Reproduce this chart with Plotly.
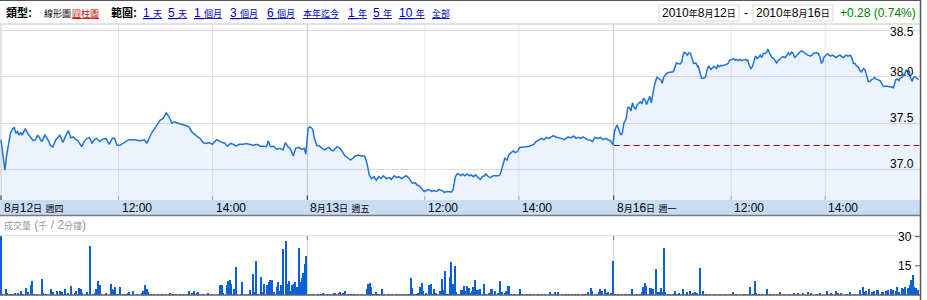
import re
import plotly.graph_objects as go

# ------------------------------------------------------------------ data
DAY_LEN = 391                      # minute slots per trading day on the axis
day_labels = ["8月12日 週四", "8月13日 週五", "8月16日 週一"]
hour_labels = ["12:00", "14:00"]
hour_minutes = [150, 270]          # minutes after the 9:30 open

price_ticks = [37.0, 37.5, 38.0, 38.5]
price_tick_text = ["37.0", "37.5", "38.0", "38.5"]
vol_ticks = [15, 30]
vol_tick_text = ["15", "30"]
prev_close = 37.258

# day 1 (8/12) minutes after open / price
d1_m = [0,2,5,7,9,12,15,17,19,21,23,25,27,31,34,37,41,44,47,52,56,60,63,66,70,75,79,83,86,89,92,96,98,103,106,110,113,116,119,122,126,130,134,138,142,145,148,152,158,163,170,177,183,186,192,198,203,207,211,215,218,221,225,229,234,240,243,248,251,254,258,262,265,270,275,280,286,289,293,297,300,304,309,313,318,322,327,331,336,339,341,344,348,352,356,360,363,366,369,373,376,380,384,387,389]
d1_p = [37.32,37.20,36.99,37.14,37.245,37.39,37.44,37.45,37.39,37.41,37.37,37.40,37.37,37.44,37.39,37.35,37.31,37.32,37.37,37.30,37.37,37.32,37.26,37.24,37.32,37.37,37.29,37.37,37.42,37.34,37.35,37.32,37.31,37.245,37.30,37.335,37.345,37.28,37.32,37.335,37.30,37.325,37.335,37.27,37.335,37.335,37.26,37.26,37.29,37.32,37.32,37.31,37.32,37.28,37.39,37.46,37.53,37.55,37.61,37.56,37.50,37.515,37.50,37.49,37.48,37.46,37.41,37.37,37.35,37.335,37.29,37.28,37.29,37.27,37.32,37.30,37.28,37.25,37.28,37.27,37.25,37.27,37.27,37.28,37.27,37.26,37.27,37.25,37.25,37.245,37.31,37.245,37.25,37.215,37.227,37.21,37.29,37.245,37.227,37.145,37.227,37.237,37.215,37.227,37.166]

# day 2 (8/13)
d2_m = [1,3,5,7,9,12,16,19,22,25,28,30,33,36,38,42,45,48,51,55,58,61,65,69,73,75,77,79,82,85,88,91,94,97,101,105,107,111,114,117,120,123,126,129,131,134,138,140,143,146,149,152,155,159,162,165,168,172,175,178,181,184,186,189,191,193,196,198,201,204,207,209,212,215,218,221,223,226,228,231,234,237,241,244,246,249,252,255,257,260,263,265,268,271,275,279,283,286,289,292,296,299,302,305,308,312,314,317,320,324,328,330,333,336,340,343,346,349,352,355,358,361,364,367,371,374,377,381,384,387,390]
d2_p = [37.444,37.46,37.45,37.43,37.335,37.26,37.25,37.227,37.21,37.227,37.237,37.21,37.20,37.227,37.245,37.227,37.19,37.145,37.13,37.10,37.12,37.145,37.155,37.145,37.145,37.10,37.03,36.94,36.90,36.92,36.88,36.92,36.90,36.93,36.90,36.91,36.89,36.93,36.91,36.92,36.90,36.92,36.93,36.91,36.88,36.85,36.855,36.83,36.82,36.785,36.76,36.77,36.78,36.76,36.77,36.76,36.78,36.77,36.75,36.76,36.76,36.755,36.78,36.92,36.95,36.952,36.93,36.95,36.93,36.95,36.93,36.94,36.92,36.94,36.91,36.89,36.92,36.93,36.95,36.92,36.91,36.93,36.93,36.93,36.94,37.03,37.12,37.10,37.155,37.18,37.20,37.18,37.19,37.237,37.245,37.245,37.25,37.26,37.27,37.30,37.32,37.335,37.32,37.345,37.335,37.36,37.365,37.35,37.345,37.335,37.32,37.335,37.35,37.34,37.36,37.335,37.345,37.335,37.35,37.335,37.32,37.317,37.30,37.345,37.335,37.345,37.32,37.335,37.317,37.31,37.263]

# day 3 (8/16)
d3_m = [1,4,6,9,11,13,16,18,20,22,24,26,28,30,34,36,38,40,42,44,46,48,50,52,55,57,60,62,64,66,68,71,74,76,78,80,82,85,87,88,90,92,94,96,98,100,102,105,107,108,110,112,114,117,119,121,124,126,128,131,133,135,137,139,142,144,146,148,151,153,155,157,159,161,163,165,168,170,171,173,175,177,179,181,183,185,187,189,191,193,195,197,199,202,204,206,208,210,212,214,216,219,221,223,225,227,229,231,233,236,238,240,243,245,248,251,253,255,257,259,261,263,265,267,268,271,273,275,277,279,282,284,286,289,291,293,295,297,299,302,304,306,308,310,312,314,316,319,321,323,325,327,329,331,333,335,337,340,342,344,346,348,350,353,355,357,359,360,362,364,365,368,370,372,373,376,377,379,381,382,384,386,388,389]
d3_p = [37.41,37.48,37.444,37.37,37.39,37.50,37.55,37.67,37.67,37.63,37.72,37.67,37.65,37.70,37.73,37.71,37.77,37.75,37.70,37.75,37.79,37.72,37.84,37.91,37.995,37.985,37.97,37.93,38.00,38.02,38.04,38.05,38.05,38.055,38.10,38.15,38.145,38.14,38.165,38.22,38.265,38.255,38.235,38.26,38.255,38.19,38.145,38.15,38.11,38.115,38.04,37.985,37.985,37.995,38.07,38.12,38.08,38.10,38.115,38.09,38.125,38.11,38.125,38.12,38.125,38.135,38.145,38.18,38.19,38.20,38.18,38.19,38.175,38.19,38.175,38.18,38.19,38.175,38.18,38.125,38.09,38.11,38.165,38.225,38.20,38.21,38.235,38.21,38.255,38.25,38.26,38.30,38.255,38.21,38.20,38.175,38.15,38.18,38.19,38.21,38.22,38.21,38.235,38.26,38.235,38.27,38.255,38.21,38.225,38.255,38.27,38.28,38.26,38.255,38.235,38.225,38.235,38.255,38.26,38.26,38.255,38.22,38.15,38.165,38.21,38.235,38.25,38.235,38.225,38.235,38.22,38.21,38.225,38.235,38.22,38.21,38.225,38.235,38.225,38.235,38.20,38.145,38.145,38.115,38.11,38.07,38.055,38.09,38.07,38.00,37.95,37.95,37.97,37.975,37.995,37.975,37.97,37.96,37.93,37.90,37.895,37.90,37.895,37.895,37.89,37.88,37.93,37.97,37.975,37.96,37.985,37.995,38.02,38.04,38.07,38.055,38.07,37.985,37.95,37.985,38.00,37.995,37.975,37.97]

# volume (thousands per 2 minutes)
v1_m = [0,2,6,8,12,14,18,22,26,28,32,34,38,40,42,46,52,54,58,64,66,72,76,78,82,86,90,94,96,100,102,104,110,114,118,120,122,124,126,128,134,140,142,144,146,148,152,156,160,162,164,168,174,180,182,184,186,188,192,196,200,206,210,214,216,220,224,228,232,238,240,244,246,250,252,258,264,270,278,280,282,284,288,290,292,294,296,298,300,302,306,308,312,316,318,322,324,326,328,332,334,336,340,342,344,346,348,352,354,356,358,360,364,366,368,370,372,374,376,378,380,382,384,386,388,390]
v1 = [31,0.9,3.2,1.2,0.5,0.5,1.2,1.4,2.1,0.4,3.9,1.8,5.3,7.6,0.9,0.4,8.3,1.2,0.5,3.5,1.8,2.3,2.3,1.8,3.5,1.4,4.8,1.4,2.3,3.9,3.0,1.4,1.8,25.3,0.4,1.2,3.2,7.4,5.3,0.9,1.4,5.8,3.5,2.7,4.1,0.9,4.1,0.5,0.9,1.2,1.8,2.1,0.5,1.2,2.3,5.5,3.2,1.8,0.5,0.9,0.9,0.9,0.9,0.9,1.4,0.5,0.9,0.9,0.5,0.9,2.1,1.4,2.3,1.2,1.8,0.9,1.2,0.5,0.9,5.5,5.5,1.4,5.3,7.6,8.0,5.8,0.9,3.0,14.8,0.9,0.2,6.7,0.9,0.9,2.7,10.8,1.8,17.7,0.9,9.5,1.8,5.8,5.5,6.7,8.0,8.0,1.8,4.4,6.7,2.1,5.3,23.9,28.1,5.8,7.6,2.1,5.3,5.8,6.7,4.4,24.2,6.7,9.0,11.5,15.9,20.3]
v2_m = [2,8,14,18,20,22,26,30,34,36,40,42,46,48,52,56,60,64,70,76,78,80,82,84,88,90,92,96,98,104,108,114,118,122,126,130,132,134,136,140,142,144,146,148,152,156,158,160,162,164,170,172,174,176,178,180,182,184,186,188,190,194,196,198,200,202,204,206,208,210,212,214,216,218,220,224,226,228,232,234,236,240,244,246,248,252,254,256,258,260,264,270,272,274,280,284,288,294,298,304,310,312,316,320,326,330,334,338,342,346,352,354,358,362,364,368,372,374,376,380,382,384,388,390]
v2 = [0.3,0.3,0.3,0.4,1.4,0.9,0.9,0.9,1.2,1.2,1.2,1.8,1.4,2.1,0.9,0.9,0.9,0.9,0.9,3.5,5.8,6.2,4.1,0.9,1.8,0.4,0.9,3.2,0.4,0.4,0.9,0.4,0.9,0.9,0.9,0.9,8.7,3.9,0.9,0.4,1.2,4.1,6.5,2.3,1.2,5.3,5.7,0.9,3.5,1.4,2.3,8.5,2.7,12.4,0.9,0.9,9.4,17.1,5.8,15.0,1.8,0.2,2.7,2.7,5.0,2.3,5.0,3.9,1.2,2.3,4.1,8.0,2.7,2.7,3.2,0.9,5.8,0.2,1.2,3.5,3.0,2.1,1.4,7.4,1.8,1.4,2.1,4.8,4.6,0.9,0.9,0.9,3.0,0.9,0.5,0.5,0.5,0.9,0.5,0.9,1.8,0.2,1.8,1.8,0.9,0.5,0.9,0.9,0.5,0.4,0.4,0.5,1.8,3.9,2.3,0.9,1.8,3.0,2.3,3.5,1.4,1.8,1.4,17.7]
v3_m = [2,6,10,14,16,20,24,30,34,36,38,40,42,46,48,50,54,56,58,60,62,64,66,70,72,76,78,80,84,88,92,94,98,102,104,106,110,114,118,122,130,136,142,148,152,156,166,170,174,178,180,182,186,190,196,200,204,208,212,218,224,230,236,242,248,252,260,264,272,276,278,284,286,290,298,302,308,314,318,320,322,326,330,332,336,338,342,344,348,350,354,356,360,362,364,368,370,372,376,378,380,382,384,386,388]
v3 = [0.9,0.2,0.2,0.5,0.9,0.9,3.0,0.2,0.9,1.8,4.4,6.5,4.8,3.9,3.9,3.4,13.6,1.8,1.8,3.9,1.8,24.4,1.8,0.9,0.4,0.9,2.3,0.9,1.4,3.0,0.9,1.8,2.3,1.4,1.8,1.4,13.8,2.1,0.9,0.9,0.9,0.5,0.5,0.5,1.8,0.9,0.9,0.5,4.4,0.4,7.6,1.4,0.9,0.9,3.5,0.9,0.9,0.5,1.8,0.9,0.9,1.2,1.4,1.4,1.8,1.4,0.9,1.4,2.3,0.9,1.4,2.3,1.4,1.4,0.9,1.8,0.9,2.7,4.4,1.8,2.3,3.5,1.8,2.1,2.7,2.7,1.8,1.8,2.3,2.7,3.5,2.7,2.1,4.1,1.8,3.9,3.5,4.4,3.9,5.3,8.0,10.6,4.4,3.9,2.7]

header_left = [("類型:", "#000000", False, True), ("線形圖", "#000000", False, False),
               ("圓柱圖", "#cc0000", True, False), ("範圍:", "#000000", False, True),
               ("1 天", "#0000cc", True, False), ("5 天", "#0000cc", True, False),
               ("1 個月", "#0000cc", True, False), ("3 個月", "#0000cc", True, False),
               ("6 個月", "#0000cc", True, False), ("本年迄今", "#0000cc", True, False),
               ("1 年", "#0000cc", True, False), ("5 年", "#0000cc", True, False),
               ("10 年", "#0000cc", True, False), ("全部", "#0000cc", True, False)]
header_left_px = [5, 43, 71, 110, 142, 167, 193, 229, 266, 302, 347, 372, 398, 431]
date_from = "2010年8月12日"
date_to = "2010年8月16日"
change_text = "+0.28 (0.74%)"
vol_title = "成交量 (千 / 2分鐘)"

# ------------------------------------------------------------------ layout helpers
W, H = 927, 300
PPM = 0.7835          # pixels per minute
X0 = 1.0              # pixel of the first open
PLOT_R = 920
FONT = "Liberation Sans, Arial, Noto Sans CJK TC, sans-serif"


def u_px(px):
    return (px - X0) / PPM


def fx(px):
    return px / W


def fy(py):
    return 1 - py / H


def cj(s, size=9):
    return re.sub(r"([\u3000-\u9fff\uff00-\uffef]+)",
                  lambda m: "<span style='font-size:%dpx'>%s</span>" % (size, m.group(1)), s)


def ul(s):
    return "<span style='text-decoration:underline'>%s</span>" % s


xr = [u_px(0), u_px(PLOT_R)]

price_x, price_y = [], []
for d, (mm, pp) in enumerate([(d1_m, d1_p), (d2_m, d2_p), (d3_m, d3_p)]):
    for m, p in zip(mm, pp):
        price_x.append(d * DAY_LEN + m)
        price_y.append(p)

vol_x, vol_y = [], []
for d, (mm, vv) in enumerate([(v1_m, v1), (v2_m, v2), (v3_m, v3)]):
    for m, v in zip(mm, vv):
        vol_x.append(d * DAY_LEN + m)
        vol_y.append(v)

fig = go.Figure()
fig.add_trace(go.Scatter(x=price_x, y=price_y, mode="lines",
                         line=dict(color="#1f74d8", width=1.5),
                         fill="tozeroy", fillcolor="rgba(40,125,230,0.09)",
                         hoverinfo="skip", xaxis="x", yaxis="y"))
fig.add_trace(go.Scatter(x=[2 * DAY_LEN, 2 * DAY_LEN + 390], y=[prev_close, prev_close],
                         mode="lines", line=dict(color="#8b0000", width=1, dash="6px,4px"),
                         hoverinfo="skip", xaxis="x", yaxis="y"))
fig.add_trace(go.Bar(x=vol_x, y=vol_y, width=1.6,
                     marker=dict(color="#0a60d8", line=dict(width=0)),
                     hoverinfo="skip", xaxis="x2", yaxis="y2"))

shapes = []
# price panel top line
shapes.append(dict(type="line", xref="paper", yref="paper", x0=0, x1=fx(PLOT_R),
                   y0=fy(24), y1=fy(24), line=dict(color="#c4c4c4", width=1)))
for d in range(3):
    for hm in hour_minutes:
        u = d * DAY_LEN + hm
        shapes.append(dict(type="line", xref="x", yref="paper", x0=u, x1=u,
                           y0=fy(200), y1=fy(24), line=dict(color="#e6e6e6", width=1), layer="below"))
        shapes.append(dict(type="line", xref="x", yref="paper", x0=u, x1=u,
                           y0=fy(200), y1=fy(196), line=dict(color="#a8a8a8", width=1)))
    u = d * DAY_LEN
    shapes.append(dict(type="line", xref="x", yref="paper", x0=u, x1=u,
                       y0=fy(200), y1=fy(24), line=dict(color="#c6ccc6", width=1), layer="below"))
    shapes.append(dict(type="line", xref="x", yref="paper", x0=u, x1=u,
                       y0=fy(200), y1=fy(195.5), line=dict(color="#333333", width=1)))
    if d > 0:
        shapes.append(dict(type="line", xref="x", yref="paper", x0=u, x1=u,
                           y0=fy(295), y1=fy(235.7), line=dict(color="#ccd3cc", width=1), layer="below"))
        shapes.append(dict(type="line", xref="x", yref="paper", x0=u, x1=u,
                           y0=fy(240), y1=fy(235.7), line=dict(color="#777777", width=1)))
# date band
shapes.append(dict(type="rect", xref="paper", yref="paper", x0=0, x1=fx(PLOT_R),
                   y0=fy(215), y1=fy(200), fillcolor="#c8dcf4", line=dict(width=0), layer="below"))
shapes.append(dict(type="line", xref="paper", yref="paper", x0=0, x1=fx(PLOT_R),
                   y0=fy(215.5), y1=fy(215.5), line=dict(color="#7a7a7a", width=1.5)))
# volume panel frame
shapes.append(dict(type="line", xref="paper", yref="paper", x0=0, x1=fx(PLOT_R),
                   y0=fy(235.7), y1=fy(235.7), line=dict(color="#d6d6f2", width=1)))
shapes.append(dict(type="line", xref="paper", yref="paper", x0=0, x1=fx(PLOT_R),
                   y0=fy(295), y1=fy(295), line=dict(color="#606060", width=1.5)))
for v in vol_ticks:
    shapes.append(dict(type="line", xref="paper", yref="y2", x0=fx(915), x1=fx(PLOT_R),
                       y0=v, y1=v, line=dict(color="#555555", width=1)))
# outer borders
shapes.append(dict(type="line", xref="paper", yref="paper", x0=fx(920.5), x1=fx(920.5),
                   y0=0, y1=1, line=dict(color="#555555", width=1.5)))
shapes.append(dict(type="line", xref="paper", yref="paper", x0=0, x1=fx(921),
                   y0=fy(0.5), y1=fy(0.5), line=dict(color="#555555", width=1)))
# header date boxes
for a, b in [(659, 739), (753, 833)]:
    shapes.append(dict(type="rect", xref="paper", yref="paper", x0=fx(a), x1=fx(b),
                       y0=fy(21), y1=fy(5), fillcolor="#ffffff", line=dict(color="#d8d8d8", width=1)))

ann = []
for (txt, col, und, bold), px in zip(header_left, header_left_px):
    t = cj(txt, 11 if bold else 9)
    if bold:
        t = "<b>%s</b>" % t
    if und:
        t = ul(t)
    ann.append(dict(text=t, xref="paper", yref="paper", x=fx(px), y=fy(13), xanchor="left",
                    yanchor="middle", showarrow=False, borderpad=0,
                    font=dict(family=FONT, size=12, color=col)))
ann.append(dict(text=cj(date_from), xref="paper", yref="paper", x=fx(699), y=fy(13),
                xanchor="center", yanchor="middle", showarrow=False,
                font=dict(family=FONT, size=12, color="#000000")))
ann.append(dict(text="-", xref="paper", yref="paper", x=fx(746), y=fy(13),
                xanchor="center", yanchor="middle", showarrow=False,
                font=dict(family=FONT, size=12, color="#000000")))
ann.append(dict(text=cj(date_to), xref="paper", yref="paper", x=fx(793), y=fy(13),
                xanchor="center", yanchor="middle", showarrow=False,
                font=dict(family=FONT, size=12, color="#000000")))
ann.append(dict(text=change_text, xref="paper", yref="paper", x=fx(839), y=fy(13),
                xanchor="left", yanchor="middle", showarrow=False, borderpad=0,
                font=dict(family=FONT, size=12, color="#008000")))
# price labels (inside the plot, right-aligned, sitting on the grid lines)
for v, t in zip(price_ticks, price_tick_text):
    if v == max(price_ticks):
        ann.append(dict(text=t, xref="paper", yref="paper", x=fx(915), y=fy(23.5),
                        xanchor="right", yanchor="top", showarrow=False, borderpad=0,
                        font=dict(family=FONT, size=12, color="#000000")))
    else:
        ann.append(dict(text=t, xref="paper", yref="y", x=fx(915), y=v, yshift=-3,
                        xanchor="right", yanchor="bottom", showarrow=False, borderpad=0,
                        font=dict(family=FONT, size=12, color="#000000")))
for d in range(3):
    ann.append(dict(text=cj(day_labels[d]), xref="x", yref="paper", x=d * DAY_LEN, y=fy(207.5),
                    xanchor="left", yanchor="middle", xshift=2, showarrow=False, borderpad=0,
                    font=dict(family=FONT, size=12, color="#000000")))
    for lab, hm in zip(hour_labels, hour_minutes):
        ann.append(dict(text=lab, xref="x", yref="paper", x=d * DAY_LEN + hm, y=fy(207.5),
                        xanchor="left", yanchor="middle", xshift=2, showarrow=False, borderpad=0,
                        font=dict(family=FONT, size=12, color="#000000")))
ann.append(dict(text=cj(vol_title), xref="paper", yref="paper", x=fx(3), y=fy(225),
                xanchor="left", yanchor="middle", showarrow=False, borderpad=0,
                font=dict(family=FONT, size=12, color="#999999")))
for v, t in zip(vol_ticks, vol_tick_text):
    ann.append(dict(text=t, xref="paper", yref="y2", x=fx(913), y=v,
                    xanchor="right", yanchor="middle", showarrow=False, borderpad=0,
                    font=dict(family=FONT, size=12, color="#000000")))

fig.update_layout(
    width=W, height=H, margin=dict(l=0, r=0, t=0, b=0),
    paper_bgcolor="#ffffff", plot_bgcolor="rgba(0,0,0,0)",
    showlegend=False, shapes=shapes, annotations=ann, bargap=0,
    xaxis=dict(domain=[0, fx(PLOT_R)], range=xr, anchor="y", showgrid=False, zeroline=False,
               showticklabels=False, ticks="", showline=False, fixedrange=True),
    yaxis=dict(domain=[fy(200), fy(24)], range=[36.668, 38.572], tickvals=price_ticks,
               showticklabels=False, showgrid=True, gridcolor="#dcdce6", gridwidth=1,
               zeroline=False, ticks="", showline=False, fixedrange=True),
    xaxis2=dict(domain=[0, fx(PLOT_R)], range=xr, anchor="y2", showgrid=False, zeroline=False,
                showticklabels=False, ticks="", showline=False, fixedrange=True),
    yaxis2=dict(domain=[fy(295), fy(235.7)], range=[0, 30.5], showgrid=False,
                showticklabels=False, zeroline=False, ticks="", showline=False, fixedrange=True),
)

fig.write_html("out.html", config={"displayModeBar": False})
